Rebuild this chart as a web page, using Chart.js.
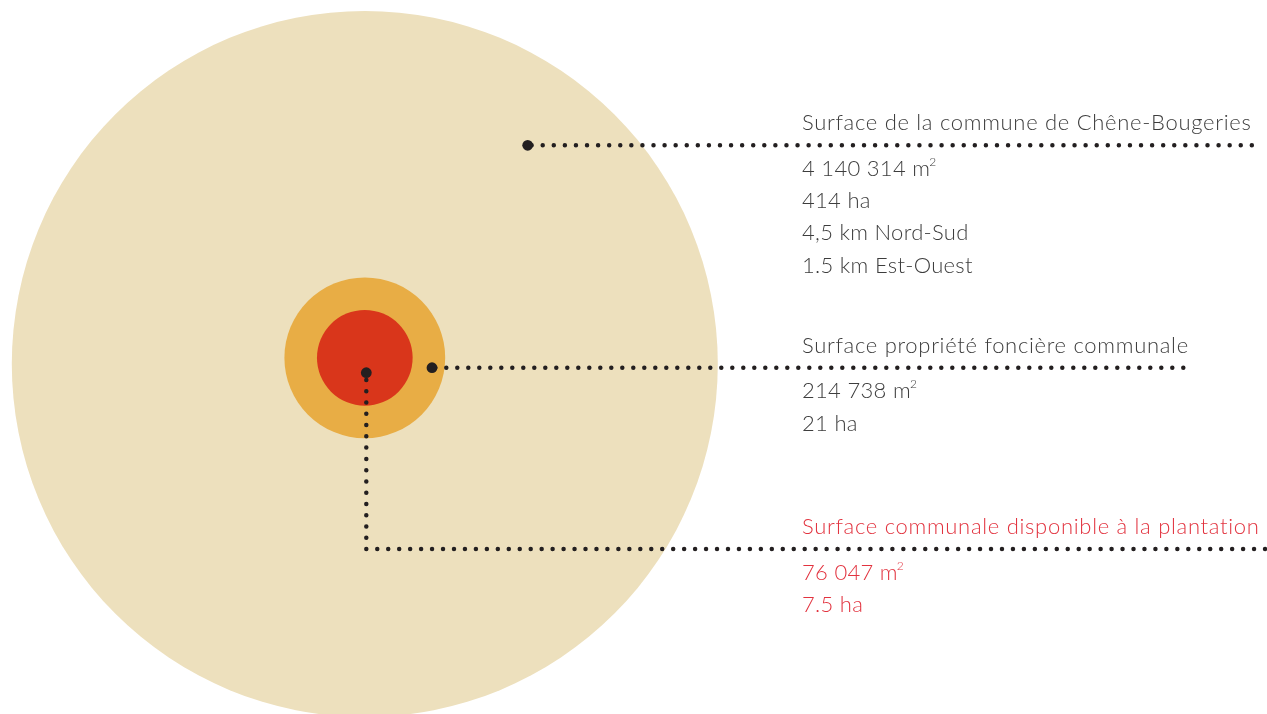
<!DOCTYPE html>
<html lang="fr">
<head>
<meta charset="utf-8">
<title>Surfaces Chêne-Bougeries</title>
<script src="https://cdn.jsdelivr.net/npm/chart.js@4.4.1/dist/chart.umd.min.js"></script>
<style>
  html, body { margin: 0; padding: 0; background: #fff; overflow: hidden; }
  canvas { display: block; }
</style>
</head>
<body>
<canvas id="surfaceChart" width="1267" height="714" style="width:1267px;height:714px"></canvas>
<script>
// surfaces in m2
const areaLabels = ['Commune', 'Propriété foncière', 'Disponible à la plantation'];
const areas = [4140314, 214738, 76047];
const circleColors = ['#EDE0BD', '#E8AD45', '#D9361B'];

// text blocks
const titles = [
    'Surface de la commune de Chêne-Bougeries',
    'Surface propriété foncière communale',
    'Surface communale disponible à la plantation'
];
const details = [
    ['4 140 314 m²', '414 ha', '4,5 km Nord-Sud', '1.5 km Est-Ouest'],
    ['214 738 m²', '21 ha'],
    ['76 047 m²', '7.5 ha']
];
const titleColors = ['#3d3d3d', '#3d3d3d', '#e2333f'];

// layout (canvas units)
const center = { x: 364.8, y: 364 };
const maxRadius = 353;
// dotted leader lines; the first point of a leader with a marker gets the big dot
const leaders = [
    [{ x: 527.7, y: 145.3 }, { x: 1252.5, y: 145.3 }],
    [{ x: 432, y: 367.7 }, { x: 1184, y: 367.7 }],
    [{ x: 366.3, y: 372.7 }, { x: 366.3, y: 545 }],
    [{ x: 366.3, y: 549 }, { x: 1266, y: 549 }]
];
const leaderMarker = [true, true, true, false];
const dotGaps = [11.08, 11, 11.27, 10.96];
const dashOffsets = [7.16, 7.7, 3.97, 0];
// text block anchors: leader index whose y is used
const textLeader = [0, 1, 3];
const textX = 802;

function radiusFor(area) {
    return maxRadius * Math.sqrt(area / areas[0]);
}

const circleSets = areas.map((a, i) => ({
    type: 'bubble',
    label: areaLabels[i],
    data: [{ x: center.x, y: i === 0 ? center.y : 357.8, r: radiusFor(a) }],
    backgroundColor: circleColors[i],
    borderWidth: 0,
    clip: false,
    order: 10 - i
}));

const leaderSets = leaders.map((pts, i) => ({
    type: 'line',
    label: 'leader' + i,
    data: pts,
    borderColor: '#231f20',
    borderWidth: 4.5,
    borderDash: [0, dotGaps[i]],
    borderDashOffset: dashOffsets[i],
    borderCapStyle: 'round',
    pointRadius: ctx => (leaderMarker[i] && ctx.dataIndex === 0) ? 5.4 : 0,
    pointBackgroundColor: '#231f20',
    pointBorderWidth: 0,
    tension: 0,
    fill: false,
    clip: false,
    order: 1
}));

function drawText(ctx, text, x, y, size) {
    ctx.font = '300 ' + size + 'px Lato';
    if (text.endsWith('m²')) {
        const base = text.slice(0, -1);
        ctx.fillText(base, x, y);
        const w = ctx.measureText(base).width;
        ctx.font = '300 12px Lato';
        ctx.fillText('2', x + w - 1, y - 10);
    } else {
        ctx.fillText(text, x, y);
    }
}

const textPlugin = {
    id: 'blockText',
    afterDraw(chart) {
        const { ctx, scales } = chart;
        ctx.save();
        ctx.textBaseline = 'alphabetic';
        titles.forEach((t, i) => {
            const lineY = scales.y.getPixelForValue(leaders[textLeader[i]][0].y);
            ctx.fillStyle = titleColors[i];
            ctx.letterSpacing = '0.7px';
            drawText(ctx, t, textX, lineY - 15, 22);
            ctx.letterSpacing = '0.3px';
            details[i].forEach((d, j) => {
                drawText(ctx, d, textX, lineY + 30.5 + j * 32.3, 22);
            });
        });
        ctx.restore();
    }
};

const chart = new Chart(document.getElementById('surfaceChart'), {
    type: 'scatter',
    data: { datasets: [...leaderSets, ...circleSets] },
    options: {
        responsive: false,
        animation: false,
        events: [],
        layout: { padding: 0, autoPadding: false },
        scales: {
            x: { type: 'linear', min: 0, max: 1267, display: false },
            y: { type: 'linear', min: 0, max: 714, reverse: true, display: false }
        },
        plugins: {
            legend: { display: false },
            tooltip: { enabled: false }
        }
    },
    plugins: [textPlugin]
});
</script>
</body>
</html>
